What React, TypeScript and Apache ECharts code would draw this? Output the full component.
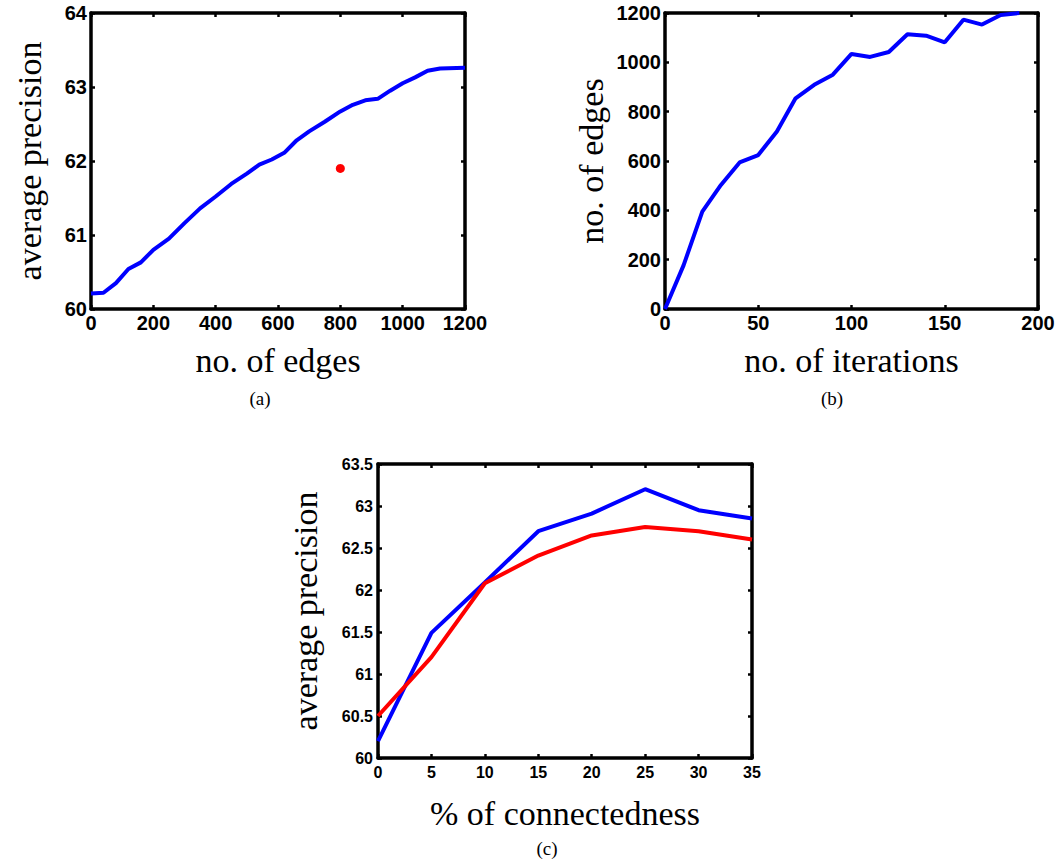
import React, { useEffect, useRef } from "react";
import * as echarts from "echarts";

// (a) average precision vs. no. of edges
const edgesA = [0, 40, 80, 120, 160, 200, 250, 300, 350, 400, 450, 500, 540, 580, 620, 660, 700, 750, 800, 840, 880, 920, 960, 1000, 1040, 1080, 1120, 1200];
const precisionA = [60.21, 60.22, 60.35, 60.54, 60.63, 60.8, 60.95, 61.16, 61.36, 61.52, 61.69, 61.83, 61.95, 62.02, 62.11, 62.28, 62.4, 62.53, 62.67, 62.76, 62.82, 62.84, 62.95, 63.05, 63.13, 63.22, 63.25, 63.26];
const redPointA = [800, 61.9];

// (b) no. of edges vs. no. of iterations
const iterationsB = [0, 10, 20, 30, 40, 50, 60, 70, 80, 90, 100, 110, 120, 130, 140, 150, 160, 170, 180, 190];
const edgesB = [0, 178, 395, 503, 594, 624, 720, 854, 909, 950, 1034, 1022, 1042, 1114, 1108, 1081, 1173, 1153, 1192, 1200];

// (c) average precision vs. % of connectedness
const connectednessC = [0, 5, 10, 15, 20, 25, 30, 35];
const blueC = [60.2, 61.49, 62.09, 62.7, 62.91, 63.2, 62.95, 62.85];
const redC = [60.5, 61.2, 62.08, 62.41, 62.65, 62.75, 62.7, 62.6];

const BLUE = "#0000ff";
const RED = "#ff0000";
const SANS = "'Liberation Sans', Arial, sans-serif";
const SERIF = "'Liberation Serif', 'Times New Roman', serif";
const TITLE_SIZE = 34;

const fmt = (v: number) => String(v);

const axisLine = { show: true, onZero: false, lineStyle: { color: "#000", width: 3.5 } };
const axisTick = { show: true, inside: true, length: 4, lineStyle: { color: "#000", width: 2.5 } };

function mainX(gridIndex: number, min: number, max: number, interval: number, name: string, fontSize: number, nameGap: number, labelMargin: number) {
  return {
    type: "value", gridIndex, position: "bottom", min, max, interval,
    name, nameLocation: "middle", nameGap,
    nameTextStyle: { fontFamily: SERIF, fontSize: TITLE_SIZE, color: "#000" },
    axisLine, axisTick,
    axisLabel: { fontFamily: SANS, fontWeight: "bold", fontSize, color: "#000", margin: labelMargin, formatter: fmt },
    splitLine: { show: false },
  };
}
function mirrorX(gridIndex: number, min: number, max: number, interval: number) {
  return {
    type: "value", gridIndex, position: "top", min, max, interval,
    axisLine, axisTick, axisLabel: { show: false }, splitLine: { show: false },
  };
}
function mainY(gridIndex: number, min: number, max: number, interval: number, name: string, fontSize: number, nameGap: number, labelMargin: number) {
  return {
    type: "value", gridIndex, position: "left", min, max, interval,
    name, nameLocation: "middle", nameGap,
    nameTextStyle: { fontFamily: SERIF, fontSize: TITLE_SIZE, color: "#000" },
    axisLine, axisTick,
    axisLabel: { fontFamily: SANS, fontWeight: "bold", fontSize, color: "#000", margin: labelMargin, formatter: fmt },
    splitLine: { show: false },
  };
}
function mirrorY(gridIndex: number, min: number, max: number, interval: number) {
  return {
    type: "value", gridIndex, position: "right", min, max, interval,
    axisLine, axisTick, axisLabel: { show: false }, splitLine: { show: false },
  };
}

export default function App() {
  const ref = useRef<HTMLDivElement>(null);
  useEffect(() => {
    if (!ref.current) return;
    const chart = echarts.init(ref.current, null, { renderer: "svg" });
    const lw = 4;
    chart.setOption({
      animation: false,
      backgroundColor: "#fff",
      grid: [
        { left: 91, top: 13, width: 374, height: 296 },
        { left: 665, top: 13, width: 373, height: 296 },
        { left: 378, top: 464, width: 374, height: 294 },
      ],
      xAxis: [
        mainX(0, 0, 1200, 200, "no. of edges", 20, 34, 4),
        mirrorX(0, 0, 1200, 200),
        mainX(1, 0, 200, 50, "no. of iterations", 20, 34, 4),
        mirrorX(1, 0, 200, 50),
        mainX(2, 0, 35, 5, "% of connectedness", 16, 38, 6),
        mirrorX(2, 0, 35, 5),
      ],
      yAxis: [
        mainY(0, 60, 64, 1, "average precision", 20, 45, 4),
        mirrorY(0, 60, 64, 1),
        mainY(1, 0, 1200, 200, "no. of edges", 20, 57, 4),
        mirrorY(1, 0, 1200, 200),
        mainY(2, 60, 63.5, 0.5, "average precision", 16, 56, 5),
        mirrorY(2, 60, 63.5, 0.5),
      ],
      series: [
        {
          type: "line", xAxisIndex: 0, yAxisIndex: 0,
          data: edgesA.map((x, i) => [x, precisionA[i]]),
          showSymbol: false,
          lineStyle: { width: lw, color: BLUE }, itemStyle: { color: BLUE },
        },
        {
          type: "scatter", xAxisIndex: 0, yAxisIndex: 0,
          data: [redPointA],
          symbol: "circle", symbolSize: 9,
          itemStyle: { color: RED, opacity: 1 },
        },
        {
          type: "line", xAxisIndex: 2, yAxisIndex: 2,
          data: iterationsB.map((x, i) => [x, edgesB[i]]),
          showSymbol: false,
          lineStyle: { width: lw, color: BLUE }, itemStyle: { color: BLUE },
        },
        {
          type: "line", xAxisIndex: 4, yAxisIndex: 4,
          data: connectednessC.map((x, i) => [x, blueC[i]]),
          showSymbol: false,
          lineStyle: { width: lw, color: BLUE }, itemStyle: { color: BLUE },
        },
        {
          type: "line", xAxisIndex: 4, yAxisIndex: 4,
          data: connectednessC.map((x, i) => [x, redC[i]]),
          showSymbol: false,
          lineStyle: { width: lw, color: RED }, itemStyle: { color: RED },
        },
      ],
      graphic: [
        { type: "text", x: 260, y: 398, style: { text: "(a)", font: `19px ${SERIF}`, fill: "#000", textAlign: "center", textVerticalAlign: "middle" } },
        { type: "text", x: 832, y: 398, style: { text: "(b)", font: `19px ${SERIF}`, fill: "#000", textAlign: "center", textVerticalAlign: "middle" } },
        { type: "text", x: 547, y: 848, style: { text: "(c)", font: `19px ${SERIF}`, fill: "#000", textAlign: "center", textVerticalAlign: "middle" } },
      ],
    });
    return () => chart.dispose();
  }, []);
  return <div ref={ref} style={{ position: "absolute", left: 0, top: 0, width: 1058, height: 866 }} />;
}
